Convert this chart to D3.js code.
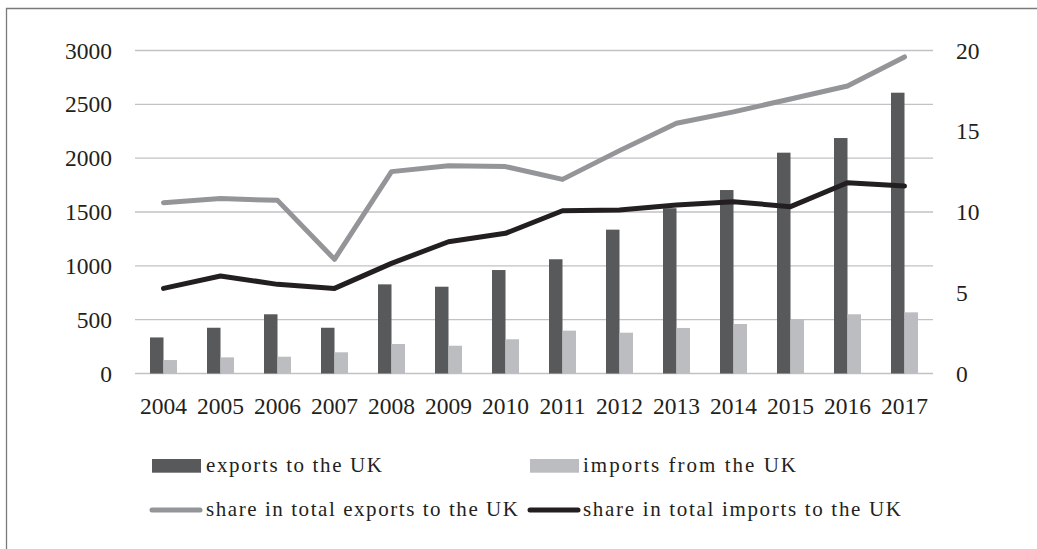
<!DOCTYPE html>
<html>
<head>
<meta charset="utf-8">
<script src="https://cdn.jsdelivr.net/npm/d3@7"></script>
<style>
  html, body { margin: 0; padding: 0; background: #fff; }
  svg { display: block; }
</style>
</head>
<body>
<svg id="chart" width="1037" height="549"></svg>
<script>
// ---- data ----
const years = ["2004","2005","2006","2007","2008","2009","2010","2011","2012","2013","2014","2015","2016","2017"];
const exportsUK = [335, 425, 550, 425, 828, 806, 961, 1061, 1336, 1535, 1704, 2051, 2187, 2608];
const importsUK = [125, 150, 156, 197, 274, 258, 318, 398, 379, 423, 460, 503, 550, 568];
const shareExports = [10.58, 10.83, 10.72, 7.07, 12.50, 12.87, 12.81, 12.02, 13.8, 15.50, 16.2, 17.0, 17.8, 19.6];
const shareImports = [5.27, 6.04, 5.52, 5.27, 6.82, 8.16, 8.68, 10.08, 10.12, 10.43, 10.64, 10.33, 11.81, 11.61];
const leftTicks = [0, 500, 1000, 1500, 2000, 2500, 3000];
const rightTicks = [0, 5, 10, 15, 20];
const barSeries = ["exports to the UK", "imports from the UK"];
const lineSeries = ["share in total exports to the UK", "share in total imports to the UK"];

// ---- layout / style ----
const plot = { left: 135, right: 933, top: 50.5, bottom: 373.5 };
const barW = 13.5;
const colors = { exp: "#58595b", imp: "#bcbdc0", shareExp: "#939598", shareImp: "#231f20", grid: "#c2c2c4", frame: "#7a7a7a", text: "#231f20" };
const serif = "'Liberation Serif', 'Times New Roman', serif";

const svg = d3.select("#chart");

// frame (cropped box: left and top edges)
svg.append("path")
  .attr("d", "M6.5,549 L6.5,8.5 L1037,8.5")
  .attr("fill", "none").attr("stroke", colors.frame).attr("stroke-width", 1.3);

const x = d3.scaleBand().domain(years).range([plot.left, plot.right]).padding(0);
const xBar = d3.scaleBand().domain(barSeries)
  .range([x.bandwidth() / 2 - barW, x.bandwidth() / 2 + barW]).padding(0);
const yL = d3.scaleLinear().domain([0, 3000]).range([plot.bottom, plot.top]);
const yR = d3.scaleLinear().domain([0, 20]).range([plot.bottom, plot.top]);

// gridlines
svg.append("g").selectAll("line").data(leftTicks).join("line")
  .attr("x1", plot.left).attr("x2", plot.right)
  .attr("y1", d => yL(d)).attr("y2", d => yL(d))
  .attr("stroke", colors.grid).attr("stroke-width", 1.4);

// left axis
const gL = svg.append("g").attr("transform", `translate(${plot.left},0)`)
  .call(d3.axisLeft(yL).tickValues(leftTicks).tickSize(0).tickPadding(23).tickFormat(d3.format("d")));
gL.select(".domain").remove();
gL.selectAll("text").attr("font-family", serif).attr("font-size", 23.5).attr("fill", colors.text);

// right axis
const gR = svg.append("g").attr("transform", `translate(${plot.right},0)`)
  .call(d3.axisRight(yR).tickValues(rightTicks).tickSize(0).tickPadding(23).tickFormat(d3.format("d")));
gR.select(".domain").remove();
gR.selectAll("text").attr("font-family", serif).attr("font-size", 23.5).attr("fill", colors.text);

// x axis labels
const gX = svg.append("g").attr("transform", `translate(0,${plot.bottom})`)
  .call(d3.axisBottom(x).tickSize(0).tickPadding(24));
gX.select(".domain").remove();
gX.selectAll("text").attr("font-family", serif).attr("font-size", 23.5).attr("fill", colors.text);

// bars
const barData = years.map((yr, i) => ({ yr, vals: [
  { s: barSeries[0], v: exportsUK[i], c: colors.exp },
  { s: barSeries[1], v: importsUK[i], c: colors.imp } ] }));
svg.append("g").selectAll("g").data(barData).join("g")
  .attr("transform", d => `translate(${x(d.yr)},0)`)
  .selectAll("rect").data(d => d.vals).join("rect")
  .attr("x", d => xBar(d.s)).attr("width", xBar.bandwidth())
  .attr("y", d => yL(d.v)).attr("height", d => yL(0) - yL(d.v))
  .attr("fill", d => d.c);

// lines
const line = d3.line().x((d, i) => x(years[i]) + x.bandwidth() / 2).y(d => yR(d));
svg.append("path").datum(shareExports).attr("d", line)
  .attr("fill", "none").attr("stroke", colors.shareExp).attr("stroke-width", 5)
  .attr("stroke-linecap", "round").attr("stroke-linejoin", "round");
svg.append("path").datum(shareImports).attr("d", line)
  .attr("fill", "none").attr("stroke", colors.shareImp).attr("stroke-width", 5)
  .attr("stroke-linecap", "round").attr("stroke-linejoin", "round");

// legend
const legendItems = [
  { label: barSeries[0], type: "rect", color: colors.exp, sx: 152, tx: 206, ty: 472, w: 176 },
  { label: barSeries[1], type: "rect", color: colors.imp, sx: 530, tx: 583, ty: 472, w: 213 },
  { label: lineSeries[0], type: "line", color: colors.shareExp, sx: 152, tx: 206, ty: 516, w: 312 },
  { label: lineSeries[1], type: "line", color: colors.shareImp, sx: 530, tx: 583, ty: 516, w: 318 }
];
const lg = svg.append("g");
legendItems.forEach(it => {
  if (it.type === "rect") {
    lg.append("rect").attr("x", it.sx).attr("y", it.ty - 13).attr("width", 49).attr("height", 13.7).attr("fill", it.color);
  } else {
    lg.append("line").attr("x1", it.sx).attr("x2", it.sx + 48).attr("y1", it.ty - 6).attr("y2", it.ty - 6)
      .attr("stroke", it.color).attr("stroke-width", 5).attr("stroke-linecap", "round");
  }
  lg.append("text").attr("x", it.tx).attr("y", it.ty).text(it.label)
    .attr("font-family", serif).attr("font-size", 21).attr("fill", colors.text)
    .attr("textLength", it.w).attr("lengthAdjust", "spacing");
});
</script>
</body>
</html>
